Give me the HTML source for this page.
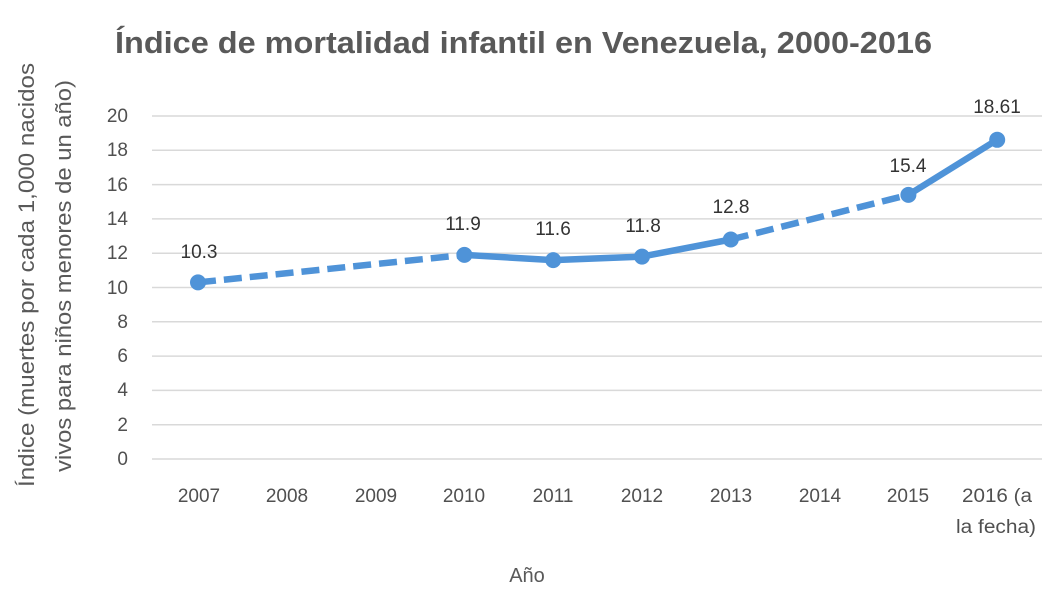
<!DOCTYPE html>
<html><head><meta charset="utf-8"><style>
html,body{margin:0;padding:0;background:#fff;}
svg{display:block;}
text{font-family:"Liberation Sans",sans-serif;}
</style></head><body>
<svg width="1050" height="600" viewBox="0 0 1050 600" xmlns="http://www.w3.org/2000/svg">
<rect width="1050" height="600" fill="#fff"/>
<text x="115" y="53" font-size="31" font-weight="bold" fill="#595959" textLength="817" lengthAdjust="spacingAndGlyphs">Índice de mortalidad infantil en Venezuela, 2000-2016</text>
<g stroke="#d9d9d9" stroke-width="1.5">
<line x1="152" x2="1042" y1="459" y2="459"/>
<line x1="152" x2="1042" y1="424.7" y2="424.7"/>
<line x1="152" x2="1042" y1="390.4" y2="390.4"/>
<line x1="152" x2="1042" y1="356.1" y2="356.1"/>
<line x1="152" x2="1042" y1="321.8" y2="321.8"/>
<line x1="152" x2="1042" y1="287.5" y2="287.5"/>
<line x1="152" x2="1042" y1="253.2" y2="253.2"/>
<line x1="152" x2="1042" y1="218.9" y2="218.9"/>
<line x1="152" x2="1042" y1="184.6" y2="184.6"/>
<line x1="152" x2="1042" y1="150.3" y2="150.3"/>
<line x1="152" x2="1042" y1="116" y2="116"/>
</g>
<g font-size="19" fill="#505050" text-anchor="end">
<text x="128" y="465">0</text>
<text x="128" y="431">2</text>
<text x="128" y="396">4</text>
<text x="128" y="362">6</text>
<text x="128" y="328">8</text>
<text x="128" y="294">10</text>
<text x="128" y="259">12</text>
<text x="128" y="225">14</text>
<text x="128" y="191">16</text>
<text x="128" y="156">18</text>
<text x="128" y="122">20</text>
</g>
<g font-size="19" fill="#505050" text-anchor="middle">
<text x="199" y="502">2007</text>
<text x="287" y="502">2008</text>
<text x="376" y="502">2009</text>
<text x="464" y="502">2010</text>
<text x="553" y="502">2011</text>
<text x="642" y="502">2012</text>
<text x="731" y="502">2013</text>
<text x="820" y="502">2014</text>
<text x="908" y="502">2015</text>
<text x="997" y="502" textLength="70" lengthAdjust="spacingAndGlyphs">2016 (a</text>
<text x="996" y="533" textLength="80" lengthAdjust="spacingAndGlyphs">la fecha)</text>
</g>
<text x="527" y="582" font-size="20" fill="#595959" text-anchor="middle">Año</text>
<g font-size="22" fill="#595959" text-anchor="middle">
<text transform="translate(34,275) rotate(-90)" textLength="424" lengthAdjust="spacingAndGlyphs">Índice (muertes por cada 1,000 nacidos</text>
<text transform="translate(71,276) rotate(-90)" textLength="392" lengthAdjust="spacingAndGlyphs">vivos para niños menores de un año)</text>
</g>
<g stroke="#4f93d8" stroke-width="6.5" fill="none">
<line x1="198" y1="282.4" x2="464.4" y2="254.9" stroke-dasharray="18 8"/>
<polyline points="464.4,254.9 553.2,260.1 642,256.6 730.8,239.5" stroke-linejoin="round"/>
<line x1="730.8" y1="239.5" x2="908.4" y2="194.9" stroke-dasharray="18 8"/>
<line x1="908.4" y1="194.9" x2="997.2" y2="139.8"/>
</g>
<g fill="#4f93d8">
<circle cx="198" cy="282.4" r="8"/>
<circle cx="464.4" cy="254.9" r="8"/>
<circle cx="553.2" cy="260.1" r="8"/>
<circle cx="642" cy="256.6" r="8"/>
<circle cx="730.8" cy="239.5" r="8"/>
<circle cx="908.4" cy="194.9" r="8"/>
<circle cx="997.2" cy="139.8" r="8"/>
</g>
<g font-size="19" fill="#333" text-anchor="middle">
<text x="199" y="258">10.3</text>
<text x="463" y="230">11.9</text>
<text x="553" y="235">11.6</text>
<text x="643" y="232">11.8</text>
<text x="731" y="213">12.8</text>
<text x="908" y="172">15.4</text>
<text x="997" y="113">18.61</text>
</g>
</svg>
</body></html>
